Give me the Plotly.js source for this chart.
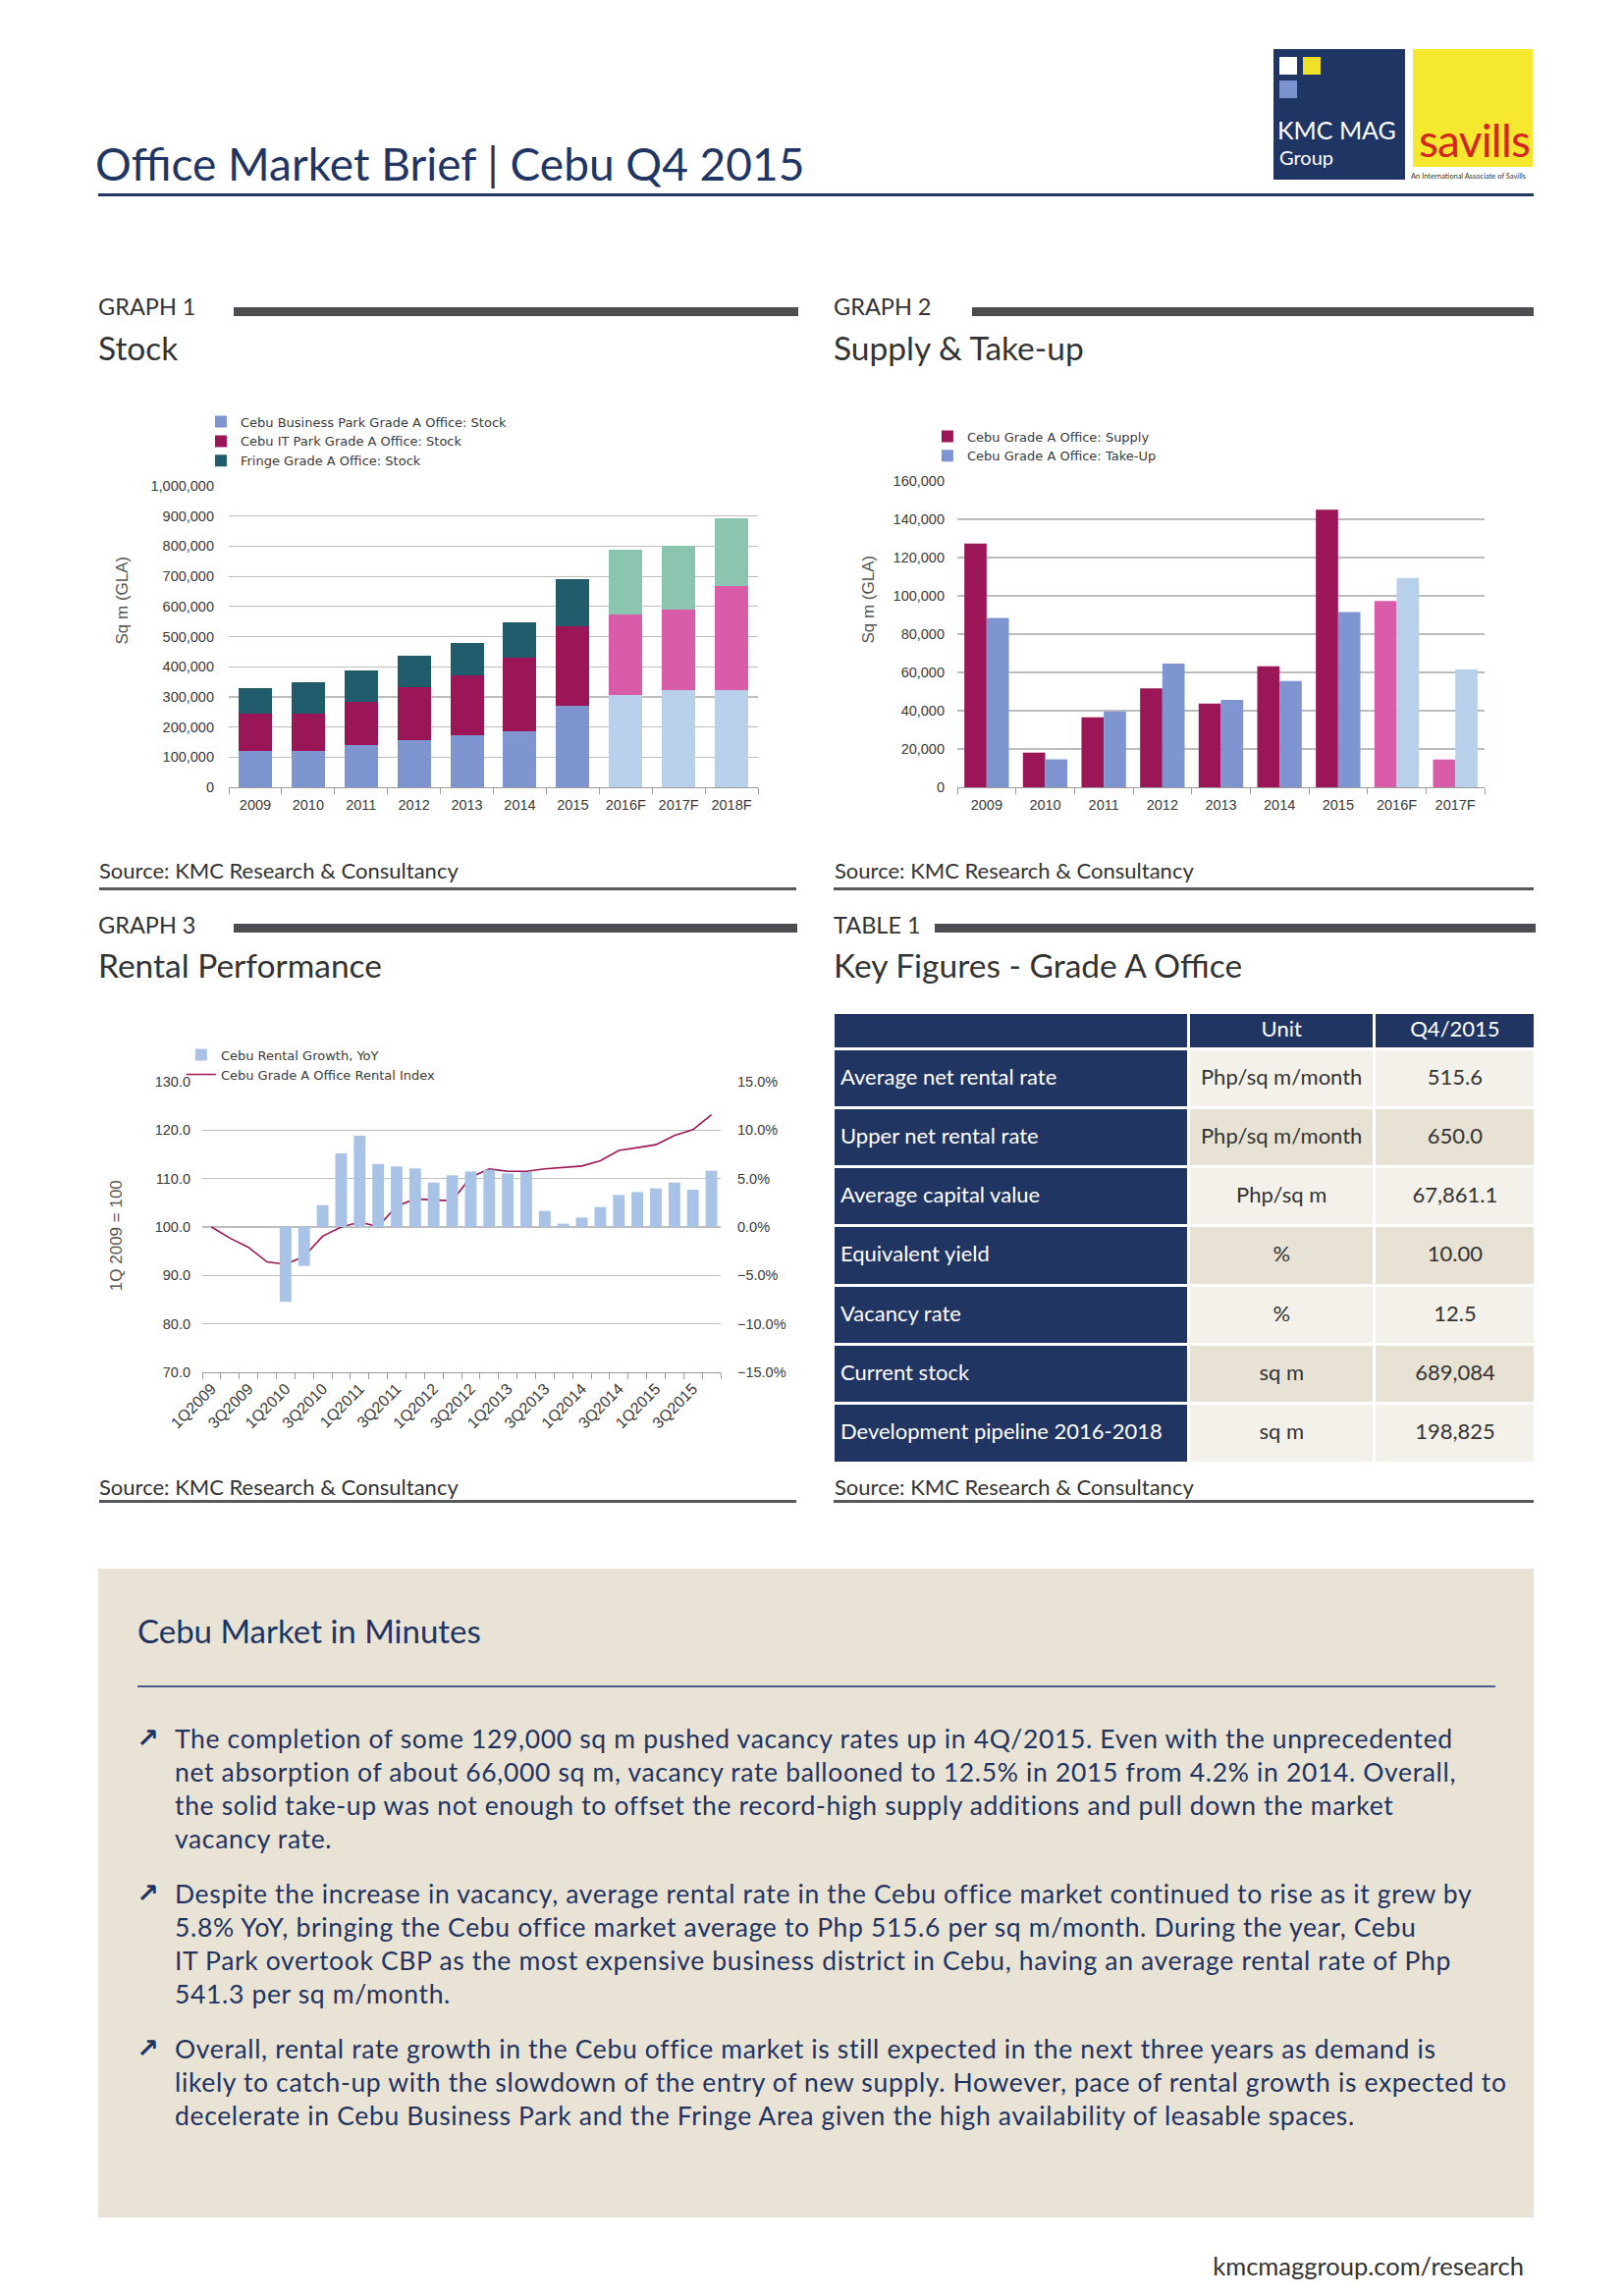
<!DOCTYPE html>
<html><head><meta charset="utf-8">
<script src="https://cdn.plot.ly/plotly-3.0.1.min.js"></script>
<style>
html,body{margin:0;padding:0;background:#fff;}
#page{position:relative;width:1654px;height:2339px;overflow:hidden;background:#fff;font-family:Lato,'Open Sans',sans-serif;}
.a{position:absolute;white-space:nowrap;line-height:1;}
.blk{position:absolute;}
.chart{position:absolute;}
.para{position:absolute;left:178px;font-size:26.5px;letter-spacing:0.65px;line-height:34px;color:#22335f;white-space:nowrap;}
.arrow{position:absolute;left:139px;font-size:27px;color:#22335f;font-weight:bold;font-family:'DejaVu Sans',sans-serif;line-height:1;}
.gh{font-size:23.5px;color:#333;}
.sh{font-size:33.5px;color:#333;}
.src{font-size:22px;color:#333;}
</style></head><body><div id="page">

<!-- header -->
<div class="a" style="left:97px;top:144px;font-size:46px;color:#1f3563;">Office Market Brief | Cebu Q4 2015</div>
<div class="blk" style="left:100px;top:197px;width:1462px;height:3px;background:#1f3563;"></div>
<div class="blk" style="left:1297px;top:50px;width:134px;height:133px;background:#1f3563;"></div>
<div class="blk" style="left:1303px;top:58px;width:18px;height:18px;background:#ffffff;"></div>
<div class="blk" style="left:1327px;top:58px;width:18px;height:18px;background:#efe02a;"></div>
<div class="blk" style="left:1303px;top:82px;width:18px;height:18px;background:#7d93cf;"></div>
<div class="a" style="left:1301px;top:120px;font-size:25px;color:#fff;">KMC MAG</div>
<div class="a" style="left:1303px;top:150px;font-size:20px;color:#fff;">Group</div>
<div class="blk" style="left:1439px;top:50px;width:122px;height:120px;background:#f5e82e;"></div>
<div class="a" style="left:1445px;top:120px;font-size:46px;color:#d4261c;letter-spacing:-0.8px;">savills</div>
<div class="a" style="left:1437px;top:176px;font-size:7.5px;color:#333;">An International Associate of Savills</div>

<!-- section headings -->
<div class="a gh" style="left:100px;top:301px;">GRAPH 1</div>
<div class="blk" style="left:238px;top:313px;width:575px;height:9px;background:#4d4d52;"></div>
<div class="a sh" style="left:100px;top:338px;">Stock</div>

<div class="a gh" style="left:849px;top:301px;">GRAPH 2</div>
<div class="blk" style="left:990px;top:313px;width:572px;height:9px;background:#4d4d52;"></div>
<div class="a sh" style="left:849px;top:338px;">Supply &amp; Take-up</div>

<div class="a src" style="left:101px;top:876px;">Source: KMC Research &amp; Consultancy</div>
<div class="blk" style="left:101px;top:904px;width:710px;height:3px;background:#58585c;"></div>
<div class="a src" style="left:850px;top:876px;">Source: KMC Research &amp; Consultancy</div>
<div class="blk" style="left:849px;top:904px;width:713px;height:3px;background:#58585c;"></div>

<div class="a gh" style="left:100px;top:931px;">GRAPH 3</div>
<div class="blk" style="left:238px;top:941px;width:574px;height:9px;background:#4d4d52;"></div>
<div class="a sh" style="left:100px;top:967px;">Rental Performance</div>

<div class="a gh" style="left:849px;top:931px;">TABLE 1</div>
<div class="blk" style="left:952px;top:941px;width:612px;height:9px;background:#4d4d52;"></div>
<div class="a sh" style="left:849px;top:967px;">Key Figures - Grade A Office</div>

<div class="a src" style="left:101px;top:1504px;">Source: KMC Research &amp; Consultancy</div>
<div class="blk" style="left:101px;top:1528px;width:710px;height:3px;background:#58585c;"></div>
<div class="a src" style="left:850px;top:1504px;">Source: KMC Research &amp; Consultancy</div>
<div class="blk" style="left:849px;top:1528px;width:713px;height:3px;background:#58585c;"></div>

<!-- charts -->
<div id="g1" class="chart" style="left:100px;top:400px;width:720px;height:440px;"></div>
<div id="g2" class="chart" style="left:848px;top:400px;width:712px;height:440px;"></div>
<div id="g3" class="chart" style="left:100px;top:1040px;width:720px;height:460px;"></div>
<div id="t1" class="chart" style="left:848px;top:1031px;width:716px;height:470px;"></div>

<!-- text box -->
<div class="blk" style="left:100px;top:1598px;width:1462px;height:661px;background:#e9e3d6;"></div>
<div class="a" style="left:140px;top:1645px;font-size:33px;color:#22335f;">Cebu Market in Minutes</div>
<div class="blk" style="left:140px;top:1717px;width:1383px;height:1.5px;background:#4a5d8a;"></div>

<div class="arrow" style="top:1757px;">&#8599;</div>
<div class="para" style="top:1754px;">The completion of some 129,000 sq m pushed vacancy rates up in 4Q/2015. Even with the unprecedented<br>net absorption of about 66,000 sq m, vacancy rate ballooned to 12.5% in 2015 from 4.2% in 2014. Overall,<br>the solid take-up was not enough to offset the record-high supply additions and pull down the market<br>vacancy rate.</div>
<div class="arrow" style="top:1915px;">&#8599;</div>
<div class="para" style="top:1912px;">Despite the increase in vacancy, average rental rate in the Cebu office market continued to rise as it grew by<br>5.8% YoY, bringing the Cebu office market average to Php 515.6 per sq m/month. During the year, Cebu<br>IT Park overtook CBP as the most expensive business district in Cebu, having an average rental rate of Php<br>541.3 per sq m/month.</div>
<div class="arrow" style="top:2073px;">&#8599;</div>
<div class="para" style="top:2070px;">Overall, rental rate growth in the Cebu office market is still expected in the next three years as demand is<br>likely to catch-up with the slowdown of the entry of new supply. However, pace of rental growth is expected to<br>decelerate in Cebu Business Park and the Fringe Area given the high availability of leasable spaces.</div>

<div class="a" style="right:102px;top:2296px;font-size:25.5px;color:#333;">kmcmaggroup.com/research</div>
</div>

<script>
// ---------- DATA ----------
const stockYears = ['2009','2010','2011','2012','2013','2014','2015','2016F','2017F','2018F'];
const cbpStock    = [122000,122000,141000,156000,172000,187000,269000,307000,322000,322000];
const itStock     = [122000,122000,142000,177000,198000,243000,264000,266000,266000,347000];
const fringeStock = [86000,105000,105000,104000,110000,116000,156000,216000,212000,222000];

const supplyYears = ['2009','2010','2011','2012','2013','2014','2015','2016F','2017F'];
const supply = [127300,18100,36500,51700,43700,63200,145000,97300,14500];
const takeUp = [88400,14600,39600,64600,45600,55500,91600,109400,61500];

const quarters = ['1Q2009','2Q2009','3Q2009','4Q2009','1Q2010','2Q2010','3Q2010','4Q2010',
  '1Q2011','2Q2011','3Q2011','4Q2011','1Q2012','2Q2012','3Q2012','4Q2012',
  '1Q2013','2Q2013','3Q2013','4Q2013','1Q2014','2Q2014','3Q2014','4Q2014',
  '1Q2015','2Q2015','3Q2015','4Q2015'];
const rentalGrowth = [null,null,null,null,-7.74,-4.02,2.26,7.60,
  9.43,6.52,6.25,6.05,4.59,5.34,5.74,5.91,
  5.54,5.68,1.66,0.34,0.98,2.06,3.31,3.61,
  3.99,4.59,3.85,5.81];
const rentalIndex = [100.0,97.7,95.8,92.8,92.3,93.9,98.1,100.0,
  101.0,100.1,104.3,105.8,105.6,105.4,110.3,112.0,
  111.5,111.5,112.0,112.3,112.6,113.7,115.8,116.4,
  117.0,118.9,120.1,123.2];

const tableHeader = ['', 'Unit', 'Q4/2015'];
const tableLabels = ['Average net rental rate','Upper net rental rate','Average capital value','Equivalent yield','Vacancy rate','Current stock','Development pipeline 2016-2018'];
const tableUnits  = ['Php/sq m/month','Php/sq m/month','Php/sq m','%','%','sq m','sq m'];
const tableValues = ['515.6','650.0','67,861.1','10.00','12.5','689,084','198,825'];

// ---------- STYLE ----------
const NAVY = '#213563';
const CBP_C = '#7e95d1', CBP_F = '#b8d0e9';
const IT_C = '#9b1656', IT_F = '#d95ca9';
const FR_C = '#215c6c', FR_F = '#8cc5af';
const TICKF = {family:'Liberation Sans, Arial, sans-serif', size:14.5, color:'#3a3a3a'};
const LEGF = {family:'DejaVu Sans, sans-serif', size:13, color:'#3a3a3a'};
const TITF = {family:'Liberation Sans, Arial, sans-serif', size:17, color:'#555'};
const GRID = '#bdbdbd';
const isF = y => /F$/.test(y);
const cfg = {staticPlot:true, displayModeBar:false};

// ---------- GRAPH 1 ----------
Plotly.newPlot('g1', [
  {type:'bar', name:'Cebu Business Park Grade A Office: Stock', x:stockYears, y:cbpStock,
   marker:{color:stockYears.map(y=>isF(y)?CBP_F:CBP_C)}},
  {type:'bar', name:'Cebu IT Park Grade A Office: Stock', x:stockYears, y:itStock,
   marker:{color:stockYears.map(y=>isF(y)?IT_F:IT_C)}},
  {type:'bar', name:'Fringe Grade A Office: Stock', x:stockYears, y:fringeStock,
   marker:{color:stockYears.map(y=>isF(y)?FR_F:FR_C)}}
], {
  width:720, height:440, margin:{l:133,r:48,t:95,b:38},
  paper_bgcolor:'rgba(0,0,0,0)', plot_bgcolor:'rgba(0,0,0,0)',
  barmode:'stack', bargap:0.37, showlegend:true,
  legend:{x:-0.052, y:1.262, xanchor:'left', yanchor:'top', traceorder:'normal', font:LEGF, bgcolor:'rgba(0,0,0,0)', tracegroupgap:0, itemwidth:30},
  xaxis:{type:'category', tickson:'boundaries', ticks:'outside', ticklen:6, tickcolor:'#9a9a9a', showline:true, linecolor:'#9a9a9a', linewidth:1.2, tickfont:TICKF, showgrid:false, ticklabelstandoff:4},
  yaxis:{range:[0,1000000], dtick:100000, tickformat:',d', showgrid:true, gridcolor:GRID, gridwidth:1.2, zeroline:false, showline:false, tickfont:TICKF, ticklabelstandoff:14},
  annotations:[{xref:'paper', yref:'paper', x:-0.222, y:0.62, text:'Sq m (GLA)', textangle:-90, showarrow:false, font:TITF}]
}, cfg);

// ---------- GRAPH 2 ----------
Plotly.newPlot('g2', [
  {type:'bar', name:'Cebu Grade A Office: Supply', x:supplyYears, y:supply,
   marker:{color:supplyYears.map(y=>isF(y)?IT_F:IT_C)}},
  {type:'bar', name:'Cebu Grade A Office: Take-Up', x:supplyYears, y:takeUp,
   marker:{color:supplyYears.map(y=>isF(y)?CBP_F:CBP_C)}}
], {
  width:712, height:440, margin:{l:127,r:48,t:90,b:38},
  paper_bgcolor:'rgba(0,0,0,0)', plot_bgcolor:'rgba(0,0,0,0)',
  barmode:'group', bargap:0.24, bargroupgap:0, showlegend:true,
  legend:{x:-0.056, y:1.194, xanchor:'left', yanchor:'top', traceorder:'normal', font:LEGF, bgcolor:'rgba(0,0,0,0)', itemwidth:30},
  xaxis:{type:'category', tickson:'boundaries', ticks:'outside', ticklen:6, tickcolor:'#9a9a9a', showline:true, linecolor:'#9a9a9a', linewidth:1.2, tickfont:TICKF, showgrid:false, ticklabelstandoff:4},
  yaxis:{range:[0,160000], dtick:20000, tickformat:',d', showgrid:true, gridcolor:GRID, gridwidth:1.2, zeroline:false, showline:false, tickfont:TICKF, ticklabelstandoff:12},
  annotations:[{xref:'paper', yref:'paper', x:-0.19, y:0.615, text:'Sq m (GLA)', textangle:-90, showarrow:false, font:TITF}]
}, cfg);

// ---------- GRAPH 3 ----------
Plotly.newPlot('g3', [
  {type:'bar', name:'Cebu Rental Growth, YoY', x:quarters, y:rentalGrowth, yaxis:'y2',
   marker:{color:'#a9c3e7'}},
  {type:'scatter', mode:'lines', name:'Cebu Grade A Office Rental Index', x:quarters, y:rentalIndex,
   line:{color:'#9b1656', width:1.6}}
], {
  width:720, height:460, margin:{l:106,r:86,t:62,b:102},
  paper_bgcolor:'rgba(0,0,0,0)', plot_bgcolor:'rgba(0,0,0,0)',
  bargap:0.37, showlegend:true,
  legend:{x:-0.04, y:1.143, xanchor:'left', yanchor:'top', traceorder:'normal', font:LEGF, bgcolor:'rgba(0,0,0,0)', itemwidth:30, tracegroupgap:0},
  xaxis:{type:'category', categoryarray:quarters, tickson:'boundaries', ticks:'outside', ticklen:6, tickcolor:'#9a9a9a',
    tickvals:quarters, ticktext:quarters.map((q,i)=> i%2===0 ? q : ''), tickangle:-45,
    showline:true, linecolor:'#9a9a9a', linewidth:1.2, tickfont:Object.assign({}, TICKF, {size:16}), showgrid:false},
  yaxis:{range:[70,130], dtick:10, tickformat:'.1f', showgrid:true, gridcolor:GRID, gridwidth:1.2, zeroline:false, showline:false, tickfont:TICKF, ticklabelstandoff:11},
  yaxis2:{range:[-15,15], dtick:5, tickformat:'.1f', ticksuffix:'%', overlaying:'y', side:'right', showgrid:false, zeroline:false, showline:false, tickfont:TICKF, ticklabelstandoff:16},
  annotations:[{xref:'paper', yref:'paper', x:-0.186, y:0.47, text:'1Q 2009 = 100', textangle:-90, showarrow:false, font:TITF}]
}, cfg);

// ---------- TABLE 1 ----------
const light = '#f4f1ea', dark = '#e8e2d5';
const alt = tableLabels.map((_,i)=> i%2===0 ? light : dark);
function shiftCells(gd){
  gd.querySelectorAll('.cell-text').forEach(el => {
    if (tableHeader.indexOf(el.textContent) === -1) el.style.translate = '0px 12px';
  });
}
Plotly.newPlot('t1', [{
  type:'table', columnwidth:[360,188,163],
  header:{values:tableHeader, height:37, fill:{color:NAVY}, line:{color:'#ffffff', width:3},
    align:'center', font:{family:'Lato, sans-serif', size:22, color:'#ffffff'}},
  cells:{values:[tableLabels, tableUnits, tableValues], height:60.3,
    fill:{color:[tableLabels.map(()=>NAVY), alt, alt]}, line:{color:'#ffffff', width:3},
    align:['left','center','center'],
    font:{family:'Lato, sans-serif', size:22, color:['#ffffff','#333333','#333333']}}
}], {
  width:716, height:470, margin:{l:0,r:0,t:0,b:0}, paper_bgcolor:'rgba(0,0,0,0)'
}, cfg).then(gd => {
  shiftCells(gd);
  setTimeout(()=>shiftCells(gd), 50);
  setTimeout(()=>shiftCells(gd), 300);
});
</script>
</body></html>
